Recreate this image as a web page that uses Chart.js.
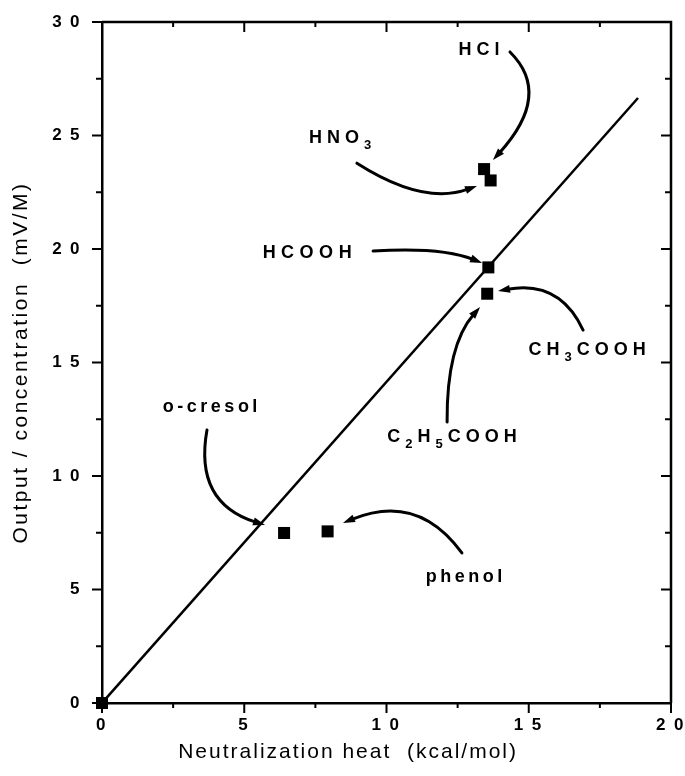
<!DOCTYPE html>
<html lang="en">

<head>
    <meta charset="UTF-8">
    <title>Output vs neutralization heat</title>
    <script src="https://cdn.jsdelivr.net/npm/chart.js"></script>
    <style>
        html, body { margin: 0; padding: 0; background: #fff; }
        .box { width: 685px; height: 776px; }
    </style>
</head>

<body>
    <div class="box"><canvas id="myChart"></canvas></div>

    <script>
        // measured points (kcal/mol , mV/M)
        const pointNames = ['origin', 'HCl', 'HNO3', 'HCOOH', 'CH3COOH', 'o-cresol', 'phenol'];
        const heatValues = [0, 13.43, 13.66, 13.58, 13.54, 6.40, 7.93];
        const outputValues = [0, 23.52, 23.02, 19.19, 18.03, 7.49, 7.56];

        // fitted straight line
        const fitHeat = [0, 18.84];
        const fitOutput = [0, 26.65];

        const xTicks = [0, 5, 10, 15, 20];
        const yTicks = [0, 5, 10, 15, 20, 25, 30];
        const minorStep = 2.5;

        const xTitle = 'Neutralization heat  (kcal/mol)';
        const yTitle = 'Output / concentration  (mV/M)';

        // labels and curved arrows, placed in data units
        const labelItems = [
            { text: 'HCl', x: 13.25, y: 28.77, spacing: 5 },
            { text: 'HNO_3', x: 8.37, y: 24.89, spacing: 5 },
            { text: 'HCOOH', x: 7.21, y: 19.82, spacing: 5.5 },
            { text: 'CH_3COOH', x: 17.05, y: 15.55, spacing: 5 },
            { text: 'C_2H_5COOH', x: 12.3, y: 11.72, spacing: 5 },
            { text: 'o-cresol', x: 3.8, y: 13.04, spacing: 3.5 },
            { text: 'phenol', x: 12.72, y: 5.55, spacing: 3.5 }
        ];
        // start, middle, end of each arrow
        const arrowItems = [
            [[14.34, 28.68], [14.94, 26.56], [13.74, 23.92]],
            [[8.96, 23.78], [11.18, 22.6], [13.18, 22.78]],
            [[9.53, 19.91], [11.7, 19.87], [13.36, 19.38]],
            [[12.13, 12.38], [12.41, 15.33], [13.29, 17.44]],
            [[16.91, 16.43], [15.75, 17.97], [13.92, 18.15]],
            [[3.69, 12.03], [3.97, 9.38], [5.73, 7.84]],
            [[12.65, 6.61], [10.83, 8.28], [8.47, 7.93]]
        ];

        const fontFamily = "'Liberation Sans', Arial, Helvetica, sans-serif";

        const spaced = v => String(v).split('').join('\u2009');

        const framePlugin = {
            id: 'frame',
            beforeDraw(chart) {
                chart.ctx.letterSpacing = '2.5px';
            },
            afterDraw(chart) {
                const { ctx, chartArea: a, scales: { x, y } } = chart;
                ctx.save();
                ctx.strokeStyle = '#000';
                ctx.lineWidth = 2.5;
                ctx.beginPath();
                ctx.moveTo(a.left, a.top);
                ctx.lineTo(a.right, a.top);
                ctx.lineTo(a.right, a.bottom);
                ctx.stroke();

                ctx.lineWidth = 2;
                ctx.beginPath();
                for (let v = x.min; v <= x.max + 0.001; v += minorStep) {
                    const px = x.getPixelForValue(v);
                    const len = v % 5 === 0 ? 10 : 5;
                    ctx.moveTo(px, a.bottom);
                    ctx.lineTo(px, a.bottom + len);
                    ctx.moveTo(px, a.top);
                    ctx.lineTo(px, a.top + len);
                }
                for (let v = y.min; v <= y.max + 0.001; v += minorStep) {
                    const py = y.getPixelForValue(v);
                    const len = v % 5 === 0 ? 10 : 6;
                    ctx.moveTo(a.left, py);
                    ctx.lineTo(a.left - len, py);
                    ctx.moveTo(a.right, py);
                    ctx.lineTo(a.right - len, py);
                }
                ctx.stroke();

                // x axis title, sits left of centre in the original
                ctx.fillStyle = '#000';
                ctx.font = '21px ' + fontFamily;
                ctx.letterSpacing = '2px';
                ctx.textAlign = 'center';
                ctx.textBaseline = 'middle';
                ctx.fillText(xTitle, x.getPixelForValue(8.65), 752);
                ctx.restore();
            }
        };

        const notePlugin = {
            id: 'notes',
            afterDatasetsDraw(chart) {
                const { ctx, scales: { x, y } } = chart;
                const P = p => [x.getPixelForValue(p[0]), y.getPixelForValue(p[1])];
                ctx.save();
                ctx.fillStyle = '#000';
                ctx.strokeStyle = '#000';

                // arrows
                ctx.lineWidth = 3;
                ctx.lineCap = 'round';
                arrowItems.forEach(item => {
                    const s = P(item[0]), m = P(item[1]), e = P(item[2]);
                    const c = [2 * m[0] - (s[0] + e[0]) / 2, 2 * m[1] - (s[1] + e[1]) / 2];
                    const ang = Math.atan2(e[1] - c[1], e[0] - c[0]);
                    const headLen = 12, headW = 4;
                    const bx = e[0] - Math.cos(ang) * headLen * 0.8;
                    const by = e[1] - Math.sin(ang) * headLen * 0.8;
                    ctx.beginPath();
                    ctx.moveTo(s[0], s[1]);
                    ctx.quadraticCurveTo(c[0], c[1], bx, by);
                    ctx.stroke();
                    ctx.beginPath();
                    ctx.moveTo(e[0], e[1]);
                    ctx.lineTo(e[0] - Math.cos(ang) * headLen - Math.sin(ang) * headW,
                        e[1] - Math.sin(ang) * headLen + Math.cos(ang) * headW);
                    ctx.lineTo(e[0] - Math.cos(ang) * headLen + Math.sin(ang) * headW,
                        e[1] - Math.sin(ang) * headLen - Math.cos(ang) * headW);
                    ctx.closePath();
                    ctx.fill();
                });

                // labels, "_" marks a subscript digit
                ctx.textBaseline = 'middle';
                ctx.textAlign = 'left';
                labelItems.forEach(item => {
                    ctx.letterSpacing = item.spacing + 'px';
                    const parts = [];
                    for (let i = 0; i < item.text.length; i++) {
                        if (item.text[i] === '_') {
                            parts.push({ t: item.text[i + 1], sub: true });
                            i++;
                        } else {
                            parts.push({ t: item.text[i], sub: false });
                        }
                    }
                    let total = 0;
                    parts.forEach(p => {
                        ctx.font = 'bold ' + (p.sub ? 13 : 18) + 'px ' + fontFamily;
                        p.w = ctx.measureText(p.t).width;
                        total += p.w;
                    });
                    const c = P([item.x, item.y]);
                    let cx = c[0] - (total - item.spacing) / 2;
                    parts.forEach(p => {
                        ctx.font = 'bold ' + (p.sub ? 13 : 18) + 'px ' + fontFamily;
                        ctx.fillText(p.t, cx, c[1] + (p.sub ? 7 : 0));
                        cx += p.w;
                    });
                });
                ctx.restore();
            }
        };

        new Chart(document.getElementById('myChart'), {
            type: 'scatter',
            data: {
                datasets: [{
                    label: 'samples',
                    data: heatValues.map((v, i) => ({ x: v, y: outputValues[i], name: pointNames[i] })),
                    pointStyle: 'rect',
                    pointRadius: 8.5,
                    backgroundColor: '#000',
                    borderColor: '#000',
                    borderWidth: 0,
                    clip: false,
                    order: 0
                }, {
                    type: 'line',
                    label: 'fit',
                    data: fitHeat.map((v, i) => ({ x: v, y: fitOutput[i] })),
                    borderColor: '#000',
                    borderWidth: 2.5,
                    pointRadius: 0,
                    fill: false,
                    order: 1
                }]
            },
            options: {
                responsive: true,
                maintainAspectRatio: false,
                animation: false,
                events: [],
                layout: { padding: { top: 22, right: 14, left: 0, bottom: 0 } },
                plugins: {
                    legend: { display: false },
                    tooltip: { enabled: false }
                },
                scales: {
                    x: {
                        type: 'linear',
                        min: 0,
                        max: 20,
                        afterBuildTicks: s => { s.ticks = xTicks.map(v => ({ value: v })); },
                        afterFit: s => { s.height = 73; s.paddingLeft = 0; s.paddingRight = 0; },
                        grid: { display: false, drawTicks: false },
                        border: { display: true, color: '#000', width: 2.5 },
                        ticks: {
                            color: '#000',
                            padding: 12,
                            maxRotation: 0,
                            autoSkip: false,
                            font: { family: fontFamily, size: 17, weight: 'bold' },
                            callback: v => spaced(v)
                        },
                        title: { display: false, text: xTitle }
                    },
                    y: {
                        type: 'linear',
                        min: 0,
                        max: 30,
                        afterBuildTicks: s => { s.ticks = yTicks.map(v => ({ value: v })); },
                        afterFit: s => { s.width = 102; s.paddingTop = 0; s.paddingBottom = 0; },
                        grid: { display: false, drawTicks: false },
                        border: { display: true, color: '#000', width: 2.5 },
                        ticks: {
                            color: '#000',
                            padding: 20,
                            autoSkip: false,
                            font: { family: fontFamily, size: 17, weight: 'bold' },
                            callback: v => spaced(v)
                        },
                        title: {
                            display: true,
                            text: yTitle,
                            color: '#000',
                            font: { family: fontFamily, size: 21 },
                            padding: { top: 9, bottom: 0 }
                        }
                    }
                }
            },
            plugins: [framePlugin, notePlugin]
        });
    </script>
</body>

</html>
